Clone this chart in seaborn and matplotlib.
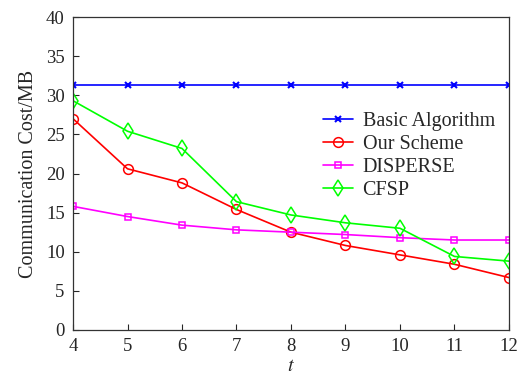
import matplotlib
matplotlib.use("Agg")
import matplotlib.pyplot as plt
import pandas as pd
import seaborn as sns

# data
t = [4, 5, 6, 7, 8, 9, 10, 11, 12]
basic = [31.3, 31.3, 31.3, 31.3, 31.3, 31.3, 31.3, 31.3, 31.3]
ours = [27.0, 20.6, 18.8, 15.4, 12.5, 10.8, 9.6, 8.4, 6.7]
disperse = [15.8, 14.5, 13.4, 12.8, 12.5, 12.2, 11.8, 11.5, 11.5]
cfsp = [29.3, 25.4, 23.2, 16.4, 14.7, 13.7, 13.0, 9.4, 8.8]

names = ["Basic Algorithm", "Our Scheme", "DISPERSE", "CFSP"]
series = [basic, ours, disperse, cfsp]
colors = ["#0000ff", "#ff0000", "#ff00ff", "#00ff00"]
marks = ["x", "o", "s", "d"]
msizes = [4.5, 7, 5, 8]

sns.set_style("white")
plt.rcParams["font.family"] = ["Liberation Serif", "DejaVu Serif"]
plt.rcParams["mathtext.fontset"] = "stix"

fig = plt.figure(figsize=(5.31, 3.78), dpi=100)
ax = fig.add_axes([0.1375, 0.127, 0.821, 0.828])

for n, s, c, m, ms in zip(names, series, colors, marks, msizes):
    d = pd.DataFrame({"t": t, "cost": s})
    sns.lineplot(data=d, x="t", y="cost", ax=ax, color=c, label=n,
                 marker=m, markersize=ms, markerfacecolor="none",
                 markeredgecolor=c, markeredgewidth=1.5 if m == "x" else 1.1,
                 linewidth=1.2)

ax.set_xlim(4, 12)
ax.set_ylim(0, 40)
ax.set_xticks(t)
ax.set_yticks(range(0, 41, 5))
ax.set_xlabel("$t$", fontsize=14.5, labelpad=1)
ax.set_ylabel("Communication Cost/MB", fontsize=14.5, labelpad=6)
ax.tick_params(direction="in", length=4, width=0.8, labelsize=13.5,
               left=True, bottom=True, top=False, right=False, pad=6)
for sp in ax.spines.values():
    sp.set_color("#333333")
    sp.set_linewidth(0.9)

ax.legend(loc="center left", bbox_to_anchor=(0.574, 0.556), frameon=False,
          fontsize=14.5, handlelength=1.5, labelspacing=0.2,
          handletextpad=0.45, borderaxespad=0, borderpad=0)

fig.savefig("out.png", dpi=100)
